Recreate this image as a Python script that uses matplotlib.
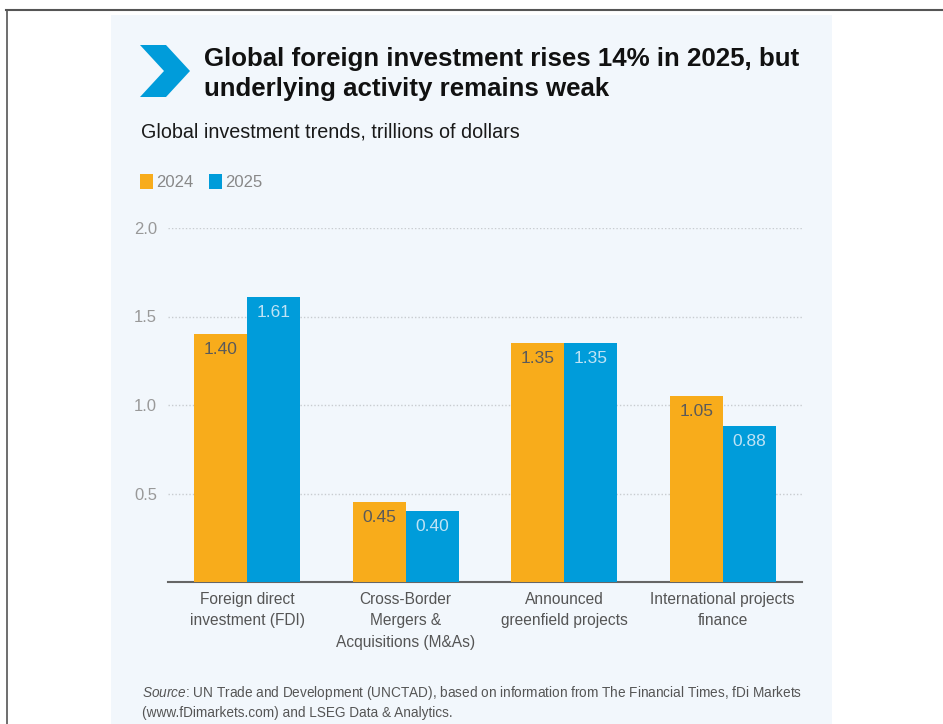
import numpy as np
import matplotlib
matplotlib.use('Agg')
import matplotlib.pyplot as plt
from matplotlib.patches import Rectangle, Polygon
from matplotlib.lines import Line2D

plt.rcParams['font.family'] = ['Liberation Sans', 'DejaVu Sans']
plt.rcParams['mathtext.fontset'] = 'custom'
plt.rcParams['mathtext.it'] = 'Liberation Sans:italic'
plt.rcParams['mathtext.rm'] = 'Liberation Sans'

# data
categories = ['Foreign direct\ninvestment (FDI)',
              'Cross-Border\nMergers &\nAcquisitions (M&As)',
              'Announced\ngreenfield projects',
              'International projects\nfinance']
years = ['2024', '2025']
values_2024 = [1.40, 0.45, 1.35, 1.05]
values_2025 = [1.61, 0.40, 1.35, 0.88]
yticks = [0.5, 1.0, 1.5, 2.0]

ORANGE = '#F8AC1B'
BLUE = '#009CDA'
BG = '#F2F7FC'

W, H = 943, 724
fig = plt.figure(figsize=(W / 100, H / 100), dpi=100)
fig.patch.set_facecolor('white')

def fx(px):
    return px / W

def fy(py):
    return 1 - py / H

# outer frame (top and left lines) and light panel
fig.add_artist(Line2D([fx(6), 1], [fy(10), fy(10)], color='#555555', lw=1.5))
fig.add_artist(Line2D([fx(6.5), fx(6.5)], [fy(10), 0], color='#555555', lw=1.2))
fig.add_artist(Rectangle((fx(111), 0), fx(832) - fx(111), fy(15), color=BG, lw=0, zorder=0))

# chevron
chev = [(140, 45), (166, 45), (190, 71), (166, 97), (140, 97), (164, 71)]
fig.add_artist(Polygon([(fx(x), fy(y)) for x, y in chev], closed=True, color=BLUE, lw=0))

fig.text(fx(204), fy(59), 'Global foreign investment rises 14% in 2025, but',
         fontsize=18.6, fontweight='bold', color='#111111', va='center', ha='left')
fig.text(fx(204), fy(89), 'underlying activity remains weak',
         fontsize=18.6, fontweight='bold', color='#111111', va='center', ha='left')
fig.text(fx(141), fy(132), 'Global investment trends, trillions of dollars',
         fontsize=14.2, color='#1A1A1A', va='center', ha='left')

# legend
for i, (yr, c) in enumerate(zip(years, [ORANGE, BLUE])):
    x0 = 140 + i * 69
    fig.add_artist(Rectangle((fx(x0), fy(189)), fx(13), 15 / H, color=c, lw=0))
    fig.text(fx(x0 + 16), fy(182), yr, fontsize=12, color='#888888', va='center', ha='left')

# axes
ax = fig.add_axes([fx(168), fy(582), fx(802) - fx(168), fy(228) - fy(582)])
ax.set_facecolor(BG)
x = np.arange(len(categories))
bw = 0.335
b1 = ax.bar(x - bw / 2, values_2024, bw, color=ORANGE, zorder=3)
b2 = ax.bar(x + bw / 2, values_2025, bw, color=BLUE, zorder=3)

for rects, vals, tc in [(b1, values_2024, '#5A5A5A'), (b2, values_2025, '#BFE3F5')]:
    for r, v in zip(rects, vals):
        ax.text(r.get_x() + r.get_width() / 2, v - 0.088, f'{v:.2f}',
                ha='center', va='center', fontsize=12.5, color=tc, zorder=4)

ax.set_xlim(-0.5, 3.5)
ax.set_ylim(0, 2.0)
ax.set_yticks(yticks)
ax.set_yticklabels([f'{t:.1f}' for t in yticks], fontsize=12, color='#999999')
ax.yaxis.grid(True, linestyle=(0, (1, 1.5)), color='#C8CCD0', lw=1, zorder=0)
ax.tick_params(axis='y', length=0, pad=8)
ax.tick_params(axis='x', length=0, pad=7)
ax.set_xticks(x)
ax.set_xticklabels(categories, fontsize=11.2, color='#555555', linespacing=1.55, va='top')
for s in ['top', 'right', 'left']:
    ax.spines[s].set_visible(False)
ax.spines['bottom'].set_color('#666666')
ax.spines['bottom'].set_linewidth(1.5)

# source note
fig.text(fx(142), fy(693),
         r'$\it{Source}$: UN Trade and Development (UNCTAD), based on information from The Financial Times, fDi Markets',
         fontsize=9.8, color='#555555', va='center', ha='left')
fig.text(fx(142), fy(713), '(www.fDimarkets.com) and LSEG Data & Analytics.',
         fontsize=9.8, color='#555555', va='center', ha='left')

fig.savefig('out.png', dpi=100, facecolor=fig.get_facecolor())
